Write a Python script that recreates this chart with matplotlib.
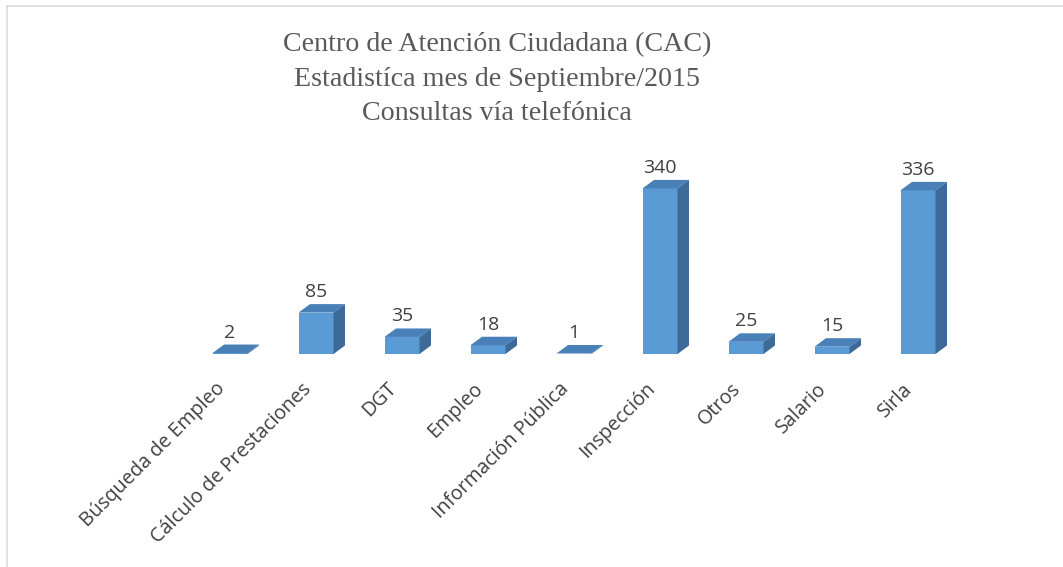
import matplotlib
matplotlib.use("Agg")
import matplotlib.pyplot as plt
from matplotlib.patches import Polygon
from matplotlib.lines import Line2D
import matplotlib.transforms as mtransforms

categories = ["Búsqueda de Empleo", "Cálculo de Prestaciones", "DGT", "Empleo",
              "Información Pública", "Inspección", "Otros", "Salario", "Sirla"]
values = [2, 85, 35, 18, 1, 340, 25, 15, 336]
title_lines = ["Centro de Atención Ciudadana (CAC)",
               "Estadistíca mes de Septiembre/2015",
               "Consultas vía telefónica"]

W, H = 1063, 567
DPI = 100
fig = plt.figure(figsize=(W / DPI, H / DPI), dpi=DPI)
fig.patch.set_facecolor("white")

# axes placement in pixels
x0_px, step_px = 230.0, 86.0
base_px = 354.0
ppu = 0.487  # pixels per unit
ymax = 400
left = x0_px - 0.5 * step_px
width = 9 * step_px
top_px = base_px - ymax * ppu
ax = fig.add_axes([left / W, (H - base_px) / H, width / W, (base_px - top_px) / H])
ax.set_xlim(-0.5, 8.5)
ax.set_ylim(0, ymax)
ax.axis("off")

front_c = "#5B9BD5"
top_c = "#4A80B8"
side_c = "#3D6A98"

bw = 35.0 / step_px
dx = 11.5 / step_px
dy = 8.5 / ppu

xs = list(range(len(categories)))
ax.bar(xs, values, width=bw, color=front_c, edgecolor="none", zorder=2)
for x, v in zip(xs, values):
    l, r = x - bw / 2, x + bw / 2
    ax.add_patch(Polygon([(l, v), (r, v), (r + dx, v + dy), (l + dx, v + dy)],
                         closed=True, facecolor=top_c, edgecolor="none", zorder=3))
    ax.add_patch(Polygon([(r, 0), (r + dx, dy), (r + dx, v + dy), (r, v)],
                         closed=True, facecolor=side_c, edgecolor="none", zorder=3))
    ax.annotate(str(v), (x, v + dy), xytext=(0, 3), textcoords="offset pixels",
                ha="center", va="bottom", fontsize=14, color="#404040",
                family="Open Sans")

# rotated category labels
tr = mtransforms.blended_transform_factory(ax.transData, fig.transFigure)
for x, lab in zip(xs, categories):
    ax.text(x, 1 - 386 / H, lab, transform=tr + mtransforms.Affine2D().translate(-8, 0),
            rotation=45, rotation_mode="anchor", ha="right", va="center",
            fontsize=14.2, color="#404040", family="Open Sans")

# title
for i, t in enumerate(title_lines):
    fig.text(497 / W, 1 - (44.5 + 34.5 * i) / H, t, ha="center", va="center",
             fontsize=20.2, color="#595959", family="Liberation Serif")

# chart border (left and top visible)
fig.add_artist(Line2D([6.5 / W, 6.5 / W], [0, 1 - 5.5 / H], transform=fig.transFigure,
                      color="#D9D9D9", lw=1.1))
fig.add_artist(Line2D([6.5 / W, 1], [1 - 5.5 / H, 1 - 5.5 / H], transform=fig.transFigure,
                      color="#D9D9D9", lw=1.1))

fig.savefig("out.png", dpi=DPI)
